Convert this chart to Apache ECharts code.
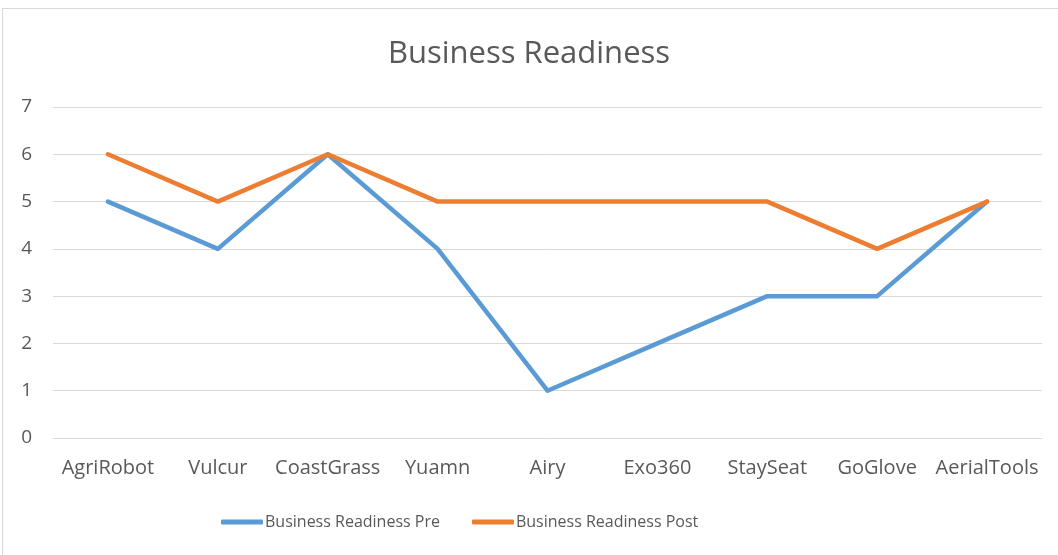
<!DOCTYPE html>
<html>
<head>
<meta charset="utf-8">
<script src="https://cdn.jsdelivr.net/npm/echarts@6/dist/echarts.min.js"></script>
<style>
  html, body { margin: 0; padding: 0; background: #fff; }
  #frame { position: absolute; left: 2px; top: 8px; width: 1100px; height: 600px; border: 1px solid #d9d9d9; box-sizing: border-box; }
  #chart { position: absolute; left: 0; top: 0; width: 1058px; height: 555px; }
</style>
</head>
<body>
<div id="frame"></div>
<div id="chart"></div>
<script>
var categories = ['AgriRobot', 'Vulcur', 'CoastGrass', 'Yuamn', 'Airy', 'Exo360', 'StaySeat', 'GoGlove', 'AerialTools'];
var preValues = [5, 4, 6, 4, 1, 2, 3, 3, 5];
var postValues = [6, 5, 6, 5, 5, 5, 5, 4, 5];
var seriesNames = ['Business Readiness Pre', 'Business Readiness Post'];

var font = '"Open Sans", "Liberation Sans", sans-serif';
var textColor = '#595959';

var option = {
    backgroundColor: 'transparent',
    animation: false,
    title: {
        text: 'Business Readiness',
        left: 'center',
        top: 34,
        textStyle: { fontFamily: font, fontSize: 31, fontWeight: 'normal', color: textColor }
    },
    legend: {
        data: seriesNames,
        bottom: 20,
        left: 216,
        icon: 'roundRect',
        itemWidth: 42,
        itemHeight: 5,
        itemGap: 32,
        textStyle: { fontFamily: font, fontSize: 16, color: textColor, padding: [0, 0, 0, -3] }
    },
    grid: {
        left: 53,
        right: 16,
        top: 107,
        bottom: 117,
        containLabel: false
    },
    xAxis: {
        type: 'category',
        data: categories,
        boundaryGap: true,
        axisTick: { show: false },
        axisLine: { lineStyle: { color: '#d9d9d9', width: 1 } },
        axisLabel: { fontFamily: font, fontSize: 20, color: textColor, margin: 20, interval: 0 }
    },
    yAxis: {
        type: 'value',
        min: 0,
        max: 7,
        interval: 1,
        axisLine: { show: false },
        axisTick: { show: false },
        axisLabel: { fontFamily: font, fontSize: 19, color: textColor, margin: 21 },
        splitLine: { lineStyle: { color: '#d9d9d9', width: 1 } }
    },
    series: [
        {
            name: seriesNames[0],
            type: 'line',
            data: preValues,
            symbol: 'none',
            lineStyle: { color: '#5B9BD5', width: 4.5, cap: 'round', join: 'round' },
            itemStyle: { color: '#5B9BD5' }
        },
        {
            name: seriesNames[1],
            type: 'line',
            data: postValues,
            symbol: 'none',
            lineStyle: { color: '#ED7D31', width: 4.5, cap: 'round', join: 'round' },
            itemStyle: { color: '#ED7D31' }
        }
    ]
};

var myChart = echarts.init(document.getElementById('chart'));
myChart.setOption(option);
</script>
</body>
</html>
